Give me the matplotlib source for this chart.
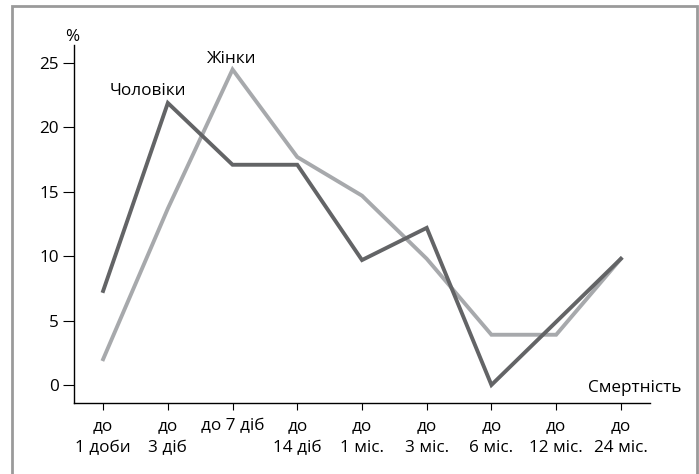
import matplotlib
matplotlib.use("Agg")
import matplotlib.pyplot as plt
from matplotlib.patches import Rectangle

categories = ["до\n1 доби", "до\n3 діб", "до 7 діб\n ", "до\n14 діб", "до\n1 міс.",
              "до\n3 міс.", "до\n6 міс.", "до\n12 міс.", "до\n24 міс."]
men = [7.3, 21.9, 17.1, 17.1, 9.7, 12.2, 0.0, 4.9, 9.8]
women = [2.0, 13.7, 24.5, 17.7, 14.7, 9.8, 3.9, 3.9, 9.8]
yticks = [0, 5, 10, 15, 20, 25]

plt.rcParams['font.family'] = ['Open Sans', 'DejaVu Sans']
FS = 12.3

fig = plt.figure(figsize=(6.99, 4.74), dpi=100)
fig.patch.set_facecolor('white')
# outer frame
fig.patches.append(Rectangle((12/699, -0.1), (697-12)/699, 1 - 6/474 + 0.1,
                             transform=fig.transFigure, fill=False,
                             edgecolor='#9a9a9a', linewidth=2))

ax = fig.add_axes([74/699, 1-403/474, (650-74)/699, (403-45)/474])
x = list(range(len(categories)))
ax.plot(x, women, color='#a7a9ac', linewidth=2.8, solid_joinstyle='miter', zorder=2)
ax.plot(x, men, color='#636466', linewidth=2.8, solid_joinstyle='miter', zorder=3)

ax.set_xlim(-0.45, 8.45)
ax.set_ylim(-1.4, 26.4)
ax.set_xticks(x)
ax.set_xticklabels(categories, fontsize=FS, linespacing=1.45)
ax.set_yticks(yticks)
ax.set_yticklabels([str(v) for v in yticks], fontsize=FS)
for s in ['top', 'right']:
    ax.spines[s].set_visible(False)
for s in ['left', 'bottom']:
    ax.spines[s].set_linewidth(1.0)
    ax.spines[s].set_color('black')
ax.tick_params(axis='y', direction='out', length=8, width=0.8, pad=3)
ax.tick_params(axis='x', direction='out', length=5, width=0.8, pad=6)

ax.text(0.695, 22.8, "Чоловіки", ha='center', va='center', fontsize=FS)
ax.text(1.98, 25.3, "Жінки", ha='center', va='center', fontsize=FS)
ax.text(-0.48, 27.0, "%", ha='center', va='center', fontsize=FS, clip_on=False)
ax.text(8.94, -0.2, "Смертність", ha='right', va='center', fontsize=FS, clip_on=False)

fig.savefig("out.png", dpi=100)
